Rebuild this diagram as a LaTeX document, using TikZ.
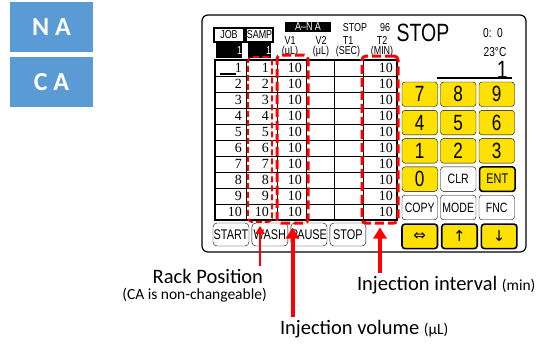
\documentclass[tikz,border=0pt]{standalone}
\usepackage{fontspec}
\setmainfont{Carlito}
\newfontfamily\lcdfont[FakeStretch=0.78]{Liberation Sans}
\newfontfamily\cellfont{Liberation Serif}
\newfontfamily\symfont{DejaVu Sans}
\usetikzlibrary{arrows.meta, positioning}
\definecolor{tagblue}{HTML}{5B9BD5}
\definecolor{keyyellow}{HTML}{FFE100}
\definecolor{hlred}{HTML}{FF0000}

\begin{document}
\begin{tikzpicture}[
    x=1pt, y=-1pt,
    node distance=3.4pt and 2.6pt,
    tag/.style={fill=tagblue, text=white, font=\bfseries\fontsize{26}{26}\selectfont, minimum width=83pt, minimum height=50pt},
    key/.style={draw, fill=keyyellow, rounded corners=3pt, minimum width=35.5pt, minimum height=24.5pt, inner sep=0pt, font=\lcdfont\fontsize{22}{22}\selectfont},
    wkey/.style={key, fill=white, font=\lcdfont\fontsize{13.5}{13.5}\selectfont},
    bkey/.style={key, line width=1.6pt},
    btn/.style={draw, rounded corners=4pt, minimum width=36pt, minimum height=23pt, inner sep=0pt, font=\lcdfont\fontsize{14}{14}\selectfont},
    hdr/.style={font=\lcdfont\fontsize{11.5}{11.5}\selectfont, inner sep=0pt},
    num/.style={anchor=east, inner sep=0pt, font=\cellfont\fontsize{14}{14}\selectfont},
    selbox/.style={draw=hlred, line width=3pt, dash pattern=on 9pt off 4pt, rounded corners=4pt, inner sep=0pt},
    arr/.style={draw=hlred, line width=4pt, -{Triangle[length=11pt, width=13pt]}, shorten >=3pt},
    lbl/.style={font=\fontsize{20.5}{22}\selectfont, inner sep=0pt, outer sep=3pt},
    note/.style={font=\fontsize{15.5}{16}\selectfont, inner sep=0pt},
  ]
    \useasboundingbox (0,0) rectangle (541,343);
    \fill[white] (0,0) rectangle (541,343);

    \node[tag] (na) at (51.5,27) {N A};
    \node[tag] (ca) at (51.5,82) {C A};

    \node[draw, line width=1.2pt, rounded corners=6pt, minimum width=324pt, minimum height=237pt] (screen) at (364,133.5) {};

    \node[hdr, draw, line width=1.2pt, minimum width=30pt, minimum height=14pt] (jobt) at (229,35) {JOB};
    \node[hdr, fill=black, text=white, below=0pt of jobt, text width=26pt, align=right, minimum height=15pt] (jobv) {1};
    \node[hdr, draw, line width=1.2pt, minimum width=27pt, minimum height=14pt] (sampt) at (259.5,35) {SAMP};
    \node[hdr, fill=black, text=white, below=0pt of sampt, text width=23pt, align=right, minimum height=15pt] (sampv) {1};
    \node[hdr, fill=black, text=white, minimum width=46pt, minimum height=10pt] (mode) at (308,26.5) {A–N A};
    \node[hdr] (state) at (355,28) {STOP};
    \node[hdr] (total) at (385,28) {96};
    \node[hdr] (v1) at (290,40.5) {V1};
    \node[hdr] (v1u) at (290,52) {(μL)};
    \node[hdr] (v2) at (321,40.5) {V2};
    \node[hdr] (v2u) at (321,52) {(μL)};
    \node[hdr] (t1) at (348,40.5) {T1};
    \node[hdr] (t1u) at (348,52) {(SEC)};
    \node[hdr] (t2) at (382,40.5) {T2};
    \node[hdr] (t2u) at (382,52) {(MIN)};

    \node[hdr, font=\lcdfont\fontsize{25}{25}\selectfont] (status) at (423,33) {STOP};
    \node[hdr, font=\lcdfont\fontsize{13}{13}\selectfont] (clock) at (493,33) {0:\ \ 0};
    \node[hdr, font=\lcdfont\fontsize{13}{13}\selectfont] (temp) at (495,52) {23°C};
    \node[hdr, font=\lcdfont\fontsize{25}{25}\selectfont, anchor=east] (entry) at (508,70) {1};
    \draw[line width=1.5pt] (437,78) -- (512,78);

    \draw[line width=1.5pt] (215,60) rectangle (397,220);
    \foreach \x in {246,277,306,334,363}
      \draw[line width=1pt] (\x,60) -- (\x,220);
    \foreach \y in {76,92,...,204}
      \draw[line width=1pt] (215,\y) -- (397,\y);
    \foreach \i in {1,...,10} {
      \node[num] (n\i) at (242,{52+16*\i}) {\i};
      \node[num] (r\i) at (269,{52+16*\i}) {\i};
      \node[num] (v\i) at (302,{52+16*\i}) {10};
      \node[num] (t\i) at (393,{52+16*\i}) {10};
    }
    \draw[line width=1.2pt] (220,74) -- (236,74);

    \node[key] (k7) at (419.75,94.25) {7};
    \node[key, right=of k7] (k8) {8};
    \node[key, right=of k8] (k9) {9};
    \node[key, below=of k7] (k4) {4};
    \node[key, right=of k4] (k5) {5};
    \node[key, right=of k5] (k6) {6};
    \node[key, below=of k4] (k1) {1};
    \node[key, right=of k1] (k2) {2};
    \node[key, right=of k2] (k3) {3};
    \node[key, below=of k1] (k0) {0};
    \node[wkey, right=of k0] (kclr) {CLR};
    \node[bkey, right=of kclr, font=\lcdfont\fontsize{14}{14}\selectfont] (kent) {ENT};
    \node[wkey, below=of k0] (kcopy) {COPY};
    \node[wkey, right=of kcopy] (kmode) {MODE};
    \node[wkey, right=of kmode] (kfnc) {FNC};
    \node[bkey, below=of kcopy, font=\symfont\fontsize{15}{15}\selectfont] (kswap) {⇔};
    \node[bkey, right=of kswap, font=\symfont\fontsize{15}{15}\selectfont] (kup) {↑};
    \node[bkey, right=of kup, font=\symfont\fontsize{15}{15}\selectfont] (kdown) {↓};

    \node[btn] (start) at (231,234.5) {START};
    \node[btn, right=2.5pt of start] (wash) {WASH};
    \node[btn, right=2.5pt of wash] (pause) {PAUSE};
    \node[btn, right=2.5pt of pause] (stop) {STOP};

    \node[selbox, line width=1.8pt, dash pattern=on 6pt off 3pt, minimum width=24pt, minimum height=165pt] (rackbox) at (260,139.5) {};
    \node[selbox, minimum width=31pt, minimum height=168pt] (volbox) at (292.5,139) {};
    \node[selbox, minimum width=36pt, minimum height=167pt] (intbox) at (380,139.5) {};

    \node[lbl, anchor=base east] (racklbl) at (266,283) {Rack Position};
    \node[note, anchor=base east] (racknote) at (267,299) {(CA is non-changeable)};
    \node[lbl, anchor=base west] (intlbl) at (354,290) {Injection interval {\fontsize{15.5}{16}\selectfont(min)}};
    \node[lbl, anchor=base west] (vollbl) at (277,334) {Injection volume {\fontsize{15.5}{16}\selectfont(μL)}};

    \draw[arr, line width=2pt, -{Triangle[length=8pt, width=9pt]}] (racklbl.north -| rackbox.south) -- (rackbox.south);
    \draw[arr] (vollbl.north -| volbox.south) -- (volbox.south);
    \draw[arr] (intlbl.north -| intbox.south) -- (intbox.south);
  \end{tikzpicture}
\end{document}
